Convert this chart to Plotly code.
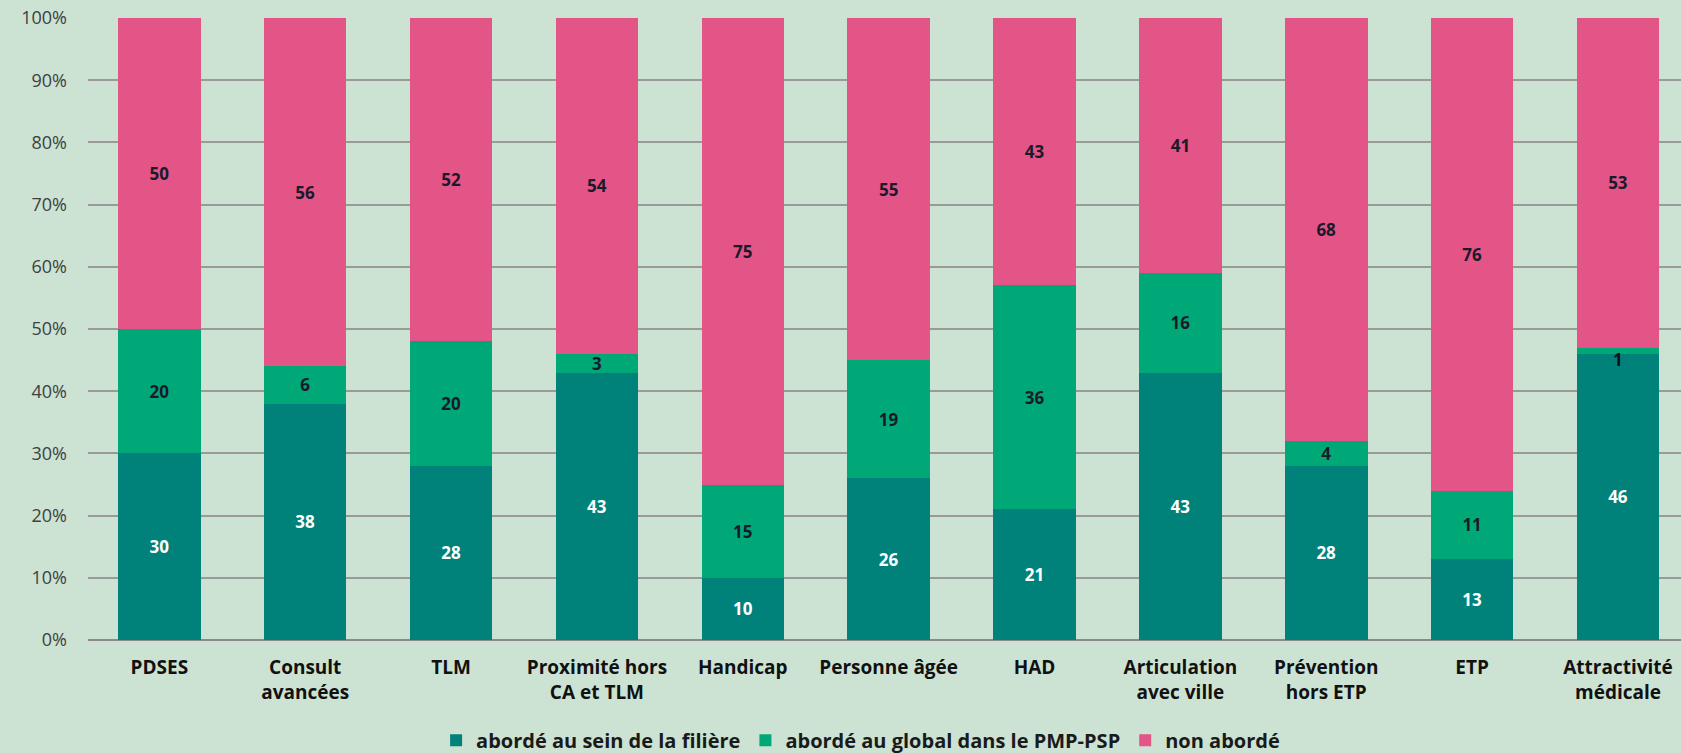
import plotly.graph_objects as go

categories = ["PDSES", "Consult<br>avancées", "TLM", "Proximité hors<br>CA et TLM", "Handicap",
              "Personne âgée", "HAD", "Articulation<br>avec ville", "Prévention<br>hors ETP", "ETP",
              "Attractivité<br>médicale"]
filiere = [30, 38, 28, 43, 10, 26, 21, 43, 28, 13, 46]
global_pmp = [20, 6, 20, 3, 15, 19, 36, 16, 4, 11, 1]
non_aborde = [50, 56, 52, 54, 75, 55, 43, 41, 68, 76, 53]
y_ticks = [0, 10, 20, 30, 40, 50, 60, 70, 80, 90, 100]
y_tick_labels = [f"{v}%" for v in y_ticks]

FONT = "Open Sans, Lato, sans-serif"
DARK = "#1a1a2a"

series = [
    ("abordé au sein de la filière", filiere, "#00827A", "white"),
    ("abordé au global dans le PMP-PSP", global_pmp, "#00A878", DARK),
    ("non abordé", non_aborde, "#E35587", DARK),
]

fig = go.Figure()
for idx, (name, vals, color, tcolor) in enumerate(series):
    if idx == 1:
        texts = [str(v) if v >= 2 else "" for v in vals]
    else:
        texts = [str(v) for v in vals]
    fig.add_trace(go.Bar(
        x=categories, y=vals, name=name,
        marker=dict(color=color, line=dict(width=0)),
        text=texts, textposition="inside", insidetextanchor="middle",
        constraintext="none", textangle=0, cliponaxis=False,
        textfont=dict(color=tcolor, size=17, family=FONT, weight="bold"),
    ))

# tiny segments: label just below the segment top, drawn above all bars
for cat, f, g in zip(categories, filiere, global_pmp):
    if g < 2:
        fig.add_annotation(x=cat, y=f + g, text=str(g), showarrow=False,
                           yanchor="top", xanchor="center", yshift=2,
                           font=dict(color="#111111", size=17, family=FONT, weight="bold"))

fig.update_layout(
    barmode="stack",
    bargap=0.434,
    width=1681, height=753,
    paper_bgcolor="#CCE3D3", plot_bgcolor="#CCE3D3",
    margin=dict(l=88, r=0, t=18, b=113, autoexpand=False),
    uniformtext=dict(mode="show", minsize=17),
    font=dict(family=FONT, color="#333333"),
    legend=dict(orientation="h", x=0.485, xanchor="center", y=-0.161, yanchor="middle",
                font=dict(size=20, family=FONT, color="#1a1a1a", weight="bold"),
                traceorder="normal", itemwidth=30, bgcolor="rgba(0,0,0,0)"),
    showlegend=True,
)
fig.update_xaxes(
    tickfont=dict(size=19, family=FONT, color="#111111", weight="bold"),
    showgrid=False, showline=False, ticks="", range=[-0.489, 10.432],
    ticklabelstandoff=14, automargin=False,
)
fig.update_yaxes(
    range=[0, 100], tickvals=y_ticks, ticktext=y_tick_labels,
    tickfont=dict(size=18, family=FONT, color="#404040"),
    showgrid=True, gridcolor="#9a9a9a", gridwidth=2,
    zeroline=True, zerolinecolor="#8a8a8a", zerolinewidth=2,
    ticks="", ticklabelstandoff=20, automargin=False,
)

fig.write_html("out.html", config={"displayModeBar": False},
               post_script="document.body.style.margin='0';document.body.style.overflow='hidden';")
